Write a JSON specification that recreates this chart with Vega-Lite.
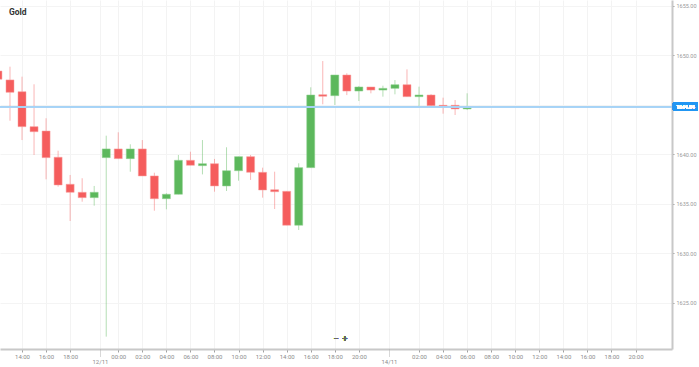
{
  "$schema": "https://vega.github.io/schema/vega-lite/v6.json",
  "width": 672,
  "height": 349,
  "autosize": {"type": "none"},
  "padding": {"left": 0, "top": 0, "right": 27, "bottom": 18},
  "background": "white",
  "config": {"view": {"stroke": null}, "font": "Roboto"},
  "title": {"text": "Gold", "anchor": "start", "frame": "group", "offset": -16, "dx": 9, "fontSize": 8.5, "fontWeight": "bold", "color": "#333333", "font": "Roboto"},
  "data": {"values": [
    {"k": 0, "o": 1648.43, "h": 1648.9, "l": 1647.3, "c": 1647.6},
    {"k": 1, "o": 1647.53, "h": 1648.87, "l": 1643.41, "c": 1646.28},
    {"k": 2, "o": 1646.34, "h": 1647.86, "l": 1641.46, "c": 1642.81},
    {"k": 3, "o": 1642.81, "h": 1647.09, "l": 1639.95, "c": 1642.3},
    {"k": 4, "o": 1642.37, "h": 1643.66, "l": 1637.49, "c": 1639.68},
    {"k": 5, "o": 1639.72, "h": 1640.38, "l": 1636.75, "c": 1636.92},
    {"k": 6, "o": 1636.99, "h": 1637.93, "l": 1633.28, "c": 1636.18},
    {"k": 7, "o": 1636.18, "h": 1637.6, "l": 1635.23, "c": 1635.64},
    {"k": 8, "o": 1635.64, "h": 1636.82, "l": 1634.83, "c": 1636.18},
    {"k": 9, "o": 1639.68, "h": 1641.9, "l": 1621.6, "c": 1640.56},
    {"k": 10, "o": 1640.56, "h": 1642.24, "l": 1639.58, "c": 1639.58},
    {"k": 11, "o": 1639.58, "h": 1641.03, "l": 1638.26, "c": 1640.56},
    {"k": 12, "o": 1640.56, "h": 1641.46, "l": 1637.83, "c": 1637.83},
    {"k": 13, "o": 1637.83, "h": 1638.16, "l": 1634.32, "c": 1635.53},
    {"k": 14, "o": 1635.53, "h": 1636.08, "l": 1634.46, "c": 1635.98},
    {"k": 15, "o": 1635.98, "h": 1639.95, "l": 1635.98, "c": 1639.41},
    {"k": 16, "o": 1639.41, "h": 1640.28, "l": 1638.91, "c": 1638.91},
    {"k": 17, "o": 1638.87, "h": 1641.46, "l": 1637.99, "c": 1639.07},
    {"k": 18, "o": 1639.07, "h": 1639.55, "l": 1636.24, "c": 1636.82},
    {"k": 19, "o": 1636.82, "h": 1640.73, "l": 1636.31, "c": 1638.36},
    {"k": 20, "o": 1638.36, "h": 1639.78, "l": 1637.35, "c": 1639.78},
    {"k": 21, "o": 1639.78, "h": 1639.95, "l": 1637.43, "c": 1638.2},
    {"k": 22, "o": 1638.2, "h": 1638.67, "l": 1635.64, "c": 1636.41},
    {"k": 23, "o": 1636.44, "h": 1638.26, "l": 1634.49, "c": 1636.24},
    {"k": 24, "o": 1636.28, "h": 1636.28, "l": 1632.85, "c": 1632.85},
    {"k": 25, "o": 1632.85, "h": 1639.11, "l": 1632.37, "c": 1638.67},
    {"k": 26, "o": 1638.67, "h": 1646.79, "l": 1638.67, "c": 1646.01},
    {"k": 27, "o": 1646.04, "h": 1649.44, "l": 1645.07, "c": 1645.88},
    {"k": 28, "o": 1645.94, "h": 1648.03, "l": 1645.0, "c": 1648.03},
    {"k": 29, "o": 1648.03, "h": 1648.2, "l": 1646.0, "c": 1646.41},
    {"k": 30, "o": 1646.41, "h": 1646.92, "l": 1645.4, "c": 1646.82},
    {"k": 31, "o": 1646.82, "h": 1646.82, "l": 1646.18, "c": 1646.51},
    {"k": 32, "o": 1646.51, "h": 1646.95, "l": 1645.84, "c": 1646.68},
    {"k": 33, "o": 1646.68, "h": 1647.52, "l": 1646.08, "c": 1647.05},
    {"k": 34, "o": 1647.05, "h": 1648.6, "l": 1645.84, "c": 1645.84},
    {"k": 35, "o": 1645.84, "h": 1646.85, "l": 1644.83, "c": 1646.01},
    {"k": 36, "o": 1646.01, "h": 1646.1, "l": 1644.93, "c": 1644.93},
    {"k": 37, "o": 1644.97, "h": 1645.74, "l": 1644.12, "c": 1644.83},
    {"k": 38, "o": 1644.97, "h": 1645.5, "l": 1643.99, "c": 1644.6},
    {"k": 39, "o": 1644.6, "h": 1646.18, "l": 1644.49, "c": 1644.83},
    {"k": 40, "o": 1644.83, "h": 1644.9, "l": 1644.78, "c": 1644.84}
  ]},
  "layer": [
    {
      "mark": {"type": "rule", "clip": true, "strokeWidth": 1, "opacity": 0.45},
      "encoding": {
        "x": {"field": "k", "type": "quantitative",
          "scale": {"domain": [0.17, 56.03], "nice": false, "zero": false, "padding": 0},
          "axis": {"orient": "bottom", "title": null,
            "values": [2, 4, 6, 10, 12, 14, 16, 18, 20, 22, 24, 26, 28, 30, 35, 37, 39, 41, 43, 45, 47, 49, 51, 53],
            "labelExpr": "format(datum.value <= 8 ? datum.value + 12 : (datum.value <= 30 ? datum.value - 10 : datum.value - 33), '02d') + ':00'",
            "labelFontSize": 6, "labelColor": "#8c8c8c", "labelPadding": 1, "labelFlush": false, "labelOverlap": false,
            "tickSize": 3, "tickColor": "#a0a0a0", "domainColor": "#c8c8c8", "domainWidth": 2,
            "grid": true, "gridColor": "#f3f3f3", "gridWidth": 1}},
        "y": {"field": "l", "type": "quantitative",
          "scale": {"domain": [1620.35, 1655.606], "nice": false, "zero": false, "padding": 0},
          "axis": {"orient": "right", "title": null,
            "values": [1625, 1630, 1635, 1640, 1645, 1650, 1655],
            "labelExpr": "datum.value == 1645 ? '' : format(datum.value, '.2f')",
            "labelFontSize": 5.5, "labelColor": "#9a9a9a", "labelPadding": 2,
            "tickSize": 2, "tickColor": "#a0a0a0", "domainColor": "#c8c8c8", "domainWidth": 2,
            "grid": true, "gridColor": "#f4f4f4", "gridWidth": 1}},
        "y2": {"field": "h"},
        "color": {"condition": {"test": "datum.c >= datum.o", "value": "#5cb85c"}, "value": "#f55d5d"}
      }
    },
    {
      "mark": {"type": "bar", "clip": true, "size": 8, "strokeWidth": 1, "strokeOpacity": 0.5},
      "encoding": {
        "x": {"field": "k", "type": "quantitative", "axis": null},
        "y": {"field": "o", "type": "quantitative"},
        "y2": {"field": "c"},
        "color": {"condition": {"test": "datum.c >= datum.o", "value": "#5cb85c"}, "value": "#f55d5d"},
        "stroke": {"condition": {"test": "datum.c >= datum.o", "value": "#8fd18f"}, "value": "#f9a0a0"}
      }
    },
    {
      "mark": {"type": "rule", "color": "#a6d3f5", "strokeWidth": 1.2},
      "encoding": {"y": {"datum": 1644.84, "type": "quantitative"}}
    },
    {
      "mark": {"type": "rect", "color": "#2196f3", "clip": false},
      "encoding": {
        "x": {"datum": 56.11, "type": "quantitative", "axis": null},
        "x2": {"datum": 58.19},
        "y": {"datum": 1645.22, "type": "quantitative"},
        "y2": {"datum": 1644.42}
      }
    },
    {
      "mark": {"type": "text", "color": "white", "fontSize": 5, "align": "center", "baseline": "middle", "clip": false},
      "encoding": {
        "x": {"datum": 57.15, "type": "quantitative", "axis": null},
        "y": {"datum": 1644.82, "type": "quantitative"},
        "text": {"value": "1644.84"}
      }
    },
    {
      "mark": {"type": "text", "color": "#666666", "fontSize": 8, "fontWeight": "bold", "align": "center", "baseline": "middle"},
      "encoding": {
        "x": {"datum": 28.1, "type": "quantitative",
          "axis": {"orient": "bottom", "title": null, "values": [8.48, 32.5],
            "labelExpr": "datum.value < 20 ? '12/11' : '14/11'",
            "labelFontSize": 6, "labelColor": "#8c8c8c", "labelPadding": 1, "labelFlush": false, "labelOverlap": false,
            "tickSize": 8, "tickColor": "#b0b0b0", "tickDash": [1, 1], "domain": false,
            "grid": true, "gridColor": "#f3f3f3", "gridWidth": 1}},
        "y": {"datum": 1621.36, "type": "quantitative"},
        "text": {"value": "−"}
      }
    },
    {
      "mark": {"type": "text", "color": "#666666", "fontSize": 8, "fontWeight": "bold", "align": "center", "baseline": "middle"},
      "encoding": {
        "x": {"datum": 28.85, "type": "quantitative", "axis": null},
        "y": {"datum": 1621.36, "type": "quantitative"},
        "text": {"value": "+"}
      }
    }
  ],
  "resolve": {"axis": {"x": "independent"}}
}
